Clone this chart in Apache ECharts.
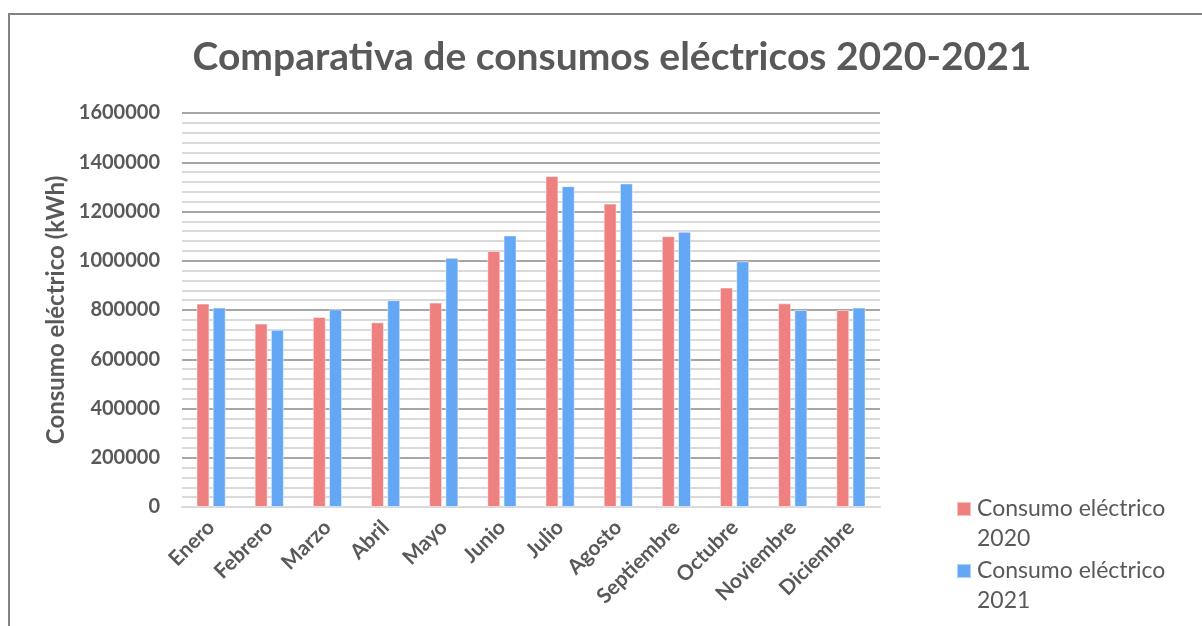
<!DOCTYPE html>
<html>
<head>
<meta charset="utf-8">
<script src="https://cdn.jsdelivr.net/npm/echarts@6/dist/echarts.min.js"></script>
<style>html,body{margin:0;padding:0;background:#fff;}#c{width:1202px;height:626px;}</style>
</head>
<body>
<div id="c"></div>
<script>
const months = ['Enero','Febrero','Marzo','Abril','Mayo','Junio','Julio','Agosto','Septiembre','Octubre','Noviembre','Diciembre'];
const consumo2020 = [826000, 745000, 772000, 750000, 830000, 1040000, 1344000, 1232000, 1100000, 891000, 827000, 800000];
const consumo2021 = [810000, 720000, 803000, 840000, 1012000, 1103000, 1303000, 1314000, 1118000, 998000, 800000, 810000];
const seriesNames = ['Consumo eléctrico 2020', 'Consumo eléctrico 2021'];
const titleText = 'Comparativa de consumos eléctricos 2020-2021';
const yAxisName = 'Consumo eléctrico (kWh)';

const FONT = 'Lato, Carlito, "Open Sans", sans-serif';
const TXT = '#595959';
const legendIcon = 'path://M0,8H14V22H0Z M0,0H0.01V0.01H0Z M0,60H0.01V59.99H0Z';

const chart = echarts.init(document.getElementById('c'), null, {renderer: 'canvas'});
chart.setOption({
  animation: false,
  backgroundColor: '#fff',
  textStyle: {fontFamily: FONT},
  title: {
    text: titleText,
    left: 612, top: 38, textAlign: 'center', padding: 0,
    textStyle: {fontFamily: FONT, fontSize: 39, fontWeight: 'bold', color: TXT}
  },
  graphic: [{
    type: 'rect', shape: {x: 9, y: 14, width: 1400, height: 800},
    style: {fill: 'none', stroke: '#828282', lineWidth: 2}, silent: true, z: -1
  }],
  legend: {
    orient: 'vertical', left: 956, top: 493, itemGap: 0, padding: 0,
    width: 240, height: 130,
    itemWidth: 14, itemHeight: 60,
    icon: legendIcon,
    formatter: function (n) { return n.replace(' 20', '\n20'); },
    textStyle: {fontFamily: FONT, fontSize: 23, color: TXT, lineHeight: 30, padding: [0, 0, 0, 1]}
  },
  grid: {left: 182, right: 322, top: 113, bottom: 119},
  xAxis: {
    type: 'category', data: months,
    axisLine: {lineStyle: {color: '#d9d9d9', width: 2}},
    axisTick: {show: false},
    axisLabel: {rotate: 45, margin: 17, interval: 0, fontFamily: FONT, fontSize: 21, fontWeight: 'bold', color: TXT}
  },
  yAxis: {
    type: 'value', min: 0, max: 1600000, interval: 200000,
    name: yAxisName, nameLocation: 'middle', nameGap: 112, nameRotate: 90,
    nameTextStyle: {fontFamily: FONT, fontSize: 24, fontWeight: 'bold', color: TXT},
    axisLine: {show: false}, axisTick: {show: false},
    axisLabel: {margin: 22, fontFamily: FONT, fontSize: 20, fontWeight: 'bold', color: TXT,
      formatter: function (v) { return String(v); }},
    splitLine: {lineStyle: {color: '#a6a6a6', width: 2}},
    minorTick: {show: false, splitNumber: 5},
    minorSplitLine: {show: true, lineStyle: {color: '#d9d9d9', width: 2}}
  },
  series: [
    {name: seriesNames[0], type: 'bar', data: consumo2020, barWidth: 13, barGap: '25%',
     itemStyle: {color: '#EF8080', borderColor: 'rgba(255,255,255,0.5)', borderWidth: 1}},
    {name: seriesNames[1], type: 'bar', data: consumo2021, barWidth: 13, barGap: '25%',
     itemStyle: {color: '#63A7F5', borderColor: 'rgba(255,255,255,0.5)', borderWidth: 1}}
  ]
});
</script>
</body>
</html>
